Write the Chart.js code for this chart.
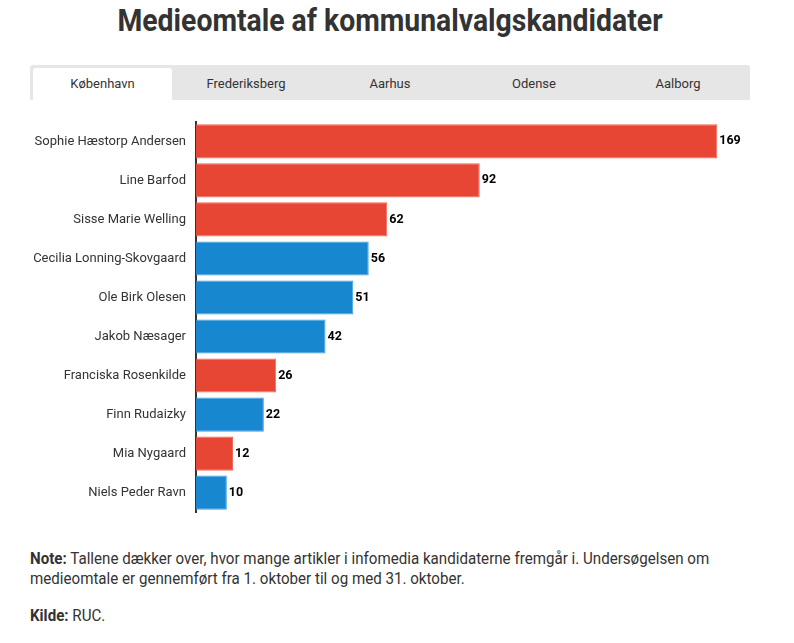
<!DOCTYPE html>
<html lang="da">
<head>
<meta charset="utf-8">
<script src="https://cdn.jsdelivr.net/npm/chart.js@4.4.1/dist/chart.umd.min.js"></script>
<style>
  body { margin: 0; width: 794px; height: 643px; background: #fff; font-family: Roboto, sans-serif; color: #333; position: relative; overflow: hidden; }
  #titel { position: absolute; top: 2px; left: -7px; width: 794px; text-align: center; font-size: 31px; font-weight: 700; color: #333; transform: scaleX(0.915); }
  #faner { position: absolute; left: 30px; top: 65px; width: 720px; height: 35px; background: #e6e6e6; border-radius: 3px 3px 0 0; }
  .fane { position: absolute; top: 3px; height: 32px; width: 144px; line-height: 32px; text-align: center; font-size: 13px; color: #333; }
  .fane.aktiv { background: #fff; border-radius: 3px 3px 0 0; width: 139px; left: 3px; }
  #boks { position: absolute; left: 0; top: 104px; width: 794px; height: 426px; }
  #note { position: absolute; left: 30px; top: 548px; width: 815px; font-size: 17px; line-height: 20px; color: #333; transform: scaleX(0.89); transform-origin: left top; }
  #note p { margin: 0 0 17px 0; }
</style>
</head>
<body>
<div id="titel">Medieomtale af kommunalvalgskandidater</div>
<div id="faner"></div>
<div id="boks"><canvas id="myChart"></canvas></div>
<div id="note">
  <p><b>Note:</b> Tallene dækker over, hvor mange artikler i infomedia kandidaterne fremgår i. Undersøgelsen om medieomtale er gennemført fra 1. oktober til og med 31. oktober.</p>
  <p><b>Kilde:</b> RUC.</p>
</div>
<script>
// Data for København
const kandidater = [
  "Sophie Hæstorp Andersen",
  "Line Barfod",
  "Sisse Marie Welling",
  "Cecilia Lonning-Skovgaard",
  "Ole Birk Olesen",
  "Jakob Næsager",
  "Franciska Rosenkilde",
  "Finn Rudaizky",
  "Mia Nygaard",
  "Niels Peder Ravn"
];
const artikler = [169, 92, 62, 56, 51, 42, 26, 22, 12, 10];
const blok = ["rød", "rød", "rød", "blå", "blå", "blå", "rød", "blå", "rød", "blå"];
const byer = ["København", "Frederiksberg", "Aarhus", "Odense", "Aalborg"];

// Faner
const faner = document.querySelector("#faner");
byer.forEach((by, i) => {
  const div = document.createElement("div");
  div.className = "fane" + (i === 0 ? " aktiv" : "");
  if (i > 0) div.style.left = i * 144 + "px";
  div.textContent = by;
  faner.appendChild(div);
});

const farver = { "rød": "#e84635", "blå": "#1787d0" };
const kanter = { "rød": "#f0685a", "blå": "#3ea0e4" };

// Tal ved enden af hver søjle
const tekstPlugin = {
  id: "tekst",
  afterDatasetsDraw(chart) {
    const ctx = chart.ctx;
    const meta = chart.getDatasetMeta(0);
    ctx.save();
    ctx.font = "bold 12.5px Roboto";
    ctx.fillStyle = "#000";
    ctx.textBaseline = "middle";
    meta.data.forEach((bar, i) => {
      ctx.fillText(artikler[i], bar.x + 2, bar.y);
    });
    ctx.restore();
  }
};

const ctx = document.getElementById("myChart");
new Chart(ctx, {
  type: "bar",
  data: {
    labels: kandidater,
    datasets: [{
      data: artikler,
      backgroundColor: blok.map((b) => farver[b]),
      borderColor: blok.map((b) => kanter[b]),
      borderWidth: 1,
      barPercentage: 0.92,
      categoryPercentage: 0.95
    }]
  },
  options: {
    indexAxis: "y",
    responsive: true,
    maintainAspectRatio: false,
    animation: false,
    layout: { padding: { left: 0, right: 49, top: 5, bottom: 17 } },
    plugins: { legend: { display: false }, tooltip: { enabled: false } },
    scales: {
      x: { display: false, min: 0, max: 178 },
      y: {
        afterFit: (scale) => { scale.width = 196; },
        grid: { display: false, drawTicks: false },
        border: { display: true, color: "#333", width: 2 },
        ticks: { color: "#333", font: { family: "Roboto", size: 13 }, padding: 10 }
      }
    }
  },
  plugins: [tekstPlugin]
});
</script>
</body>
</html>
